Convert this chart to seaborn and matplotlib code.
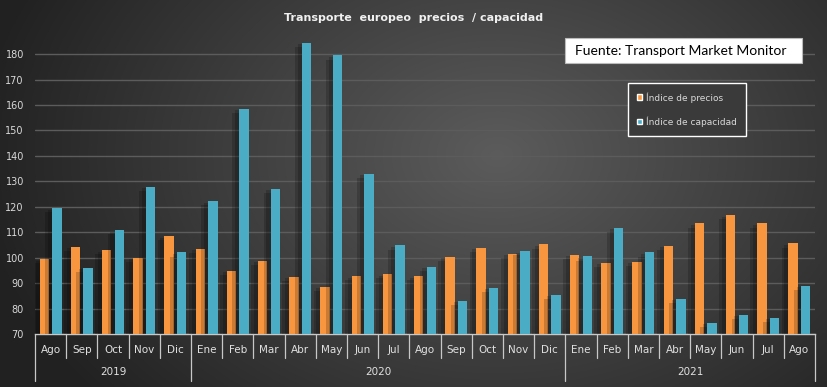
import numpy as np
import pandas as pd
import matplotlib
matplotlib.use("Agg")
import matplotlib.pyplot as plt
import matplotlib.patheffects as pe
from matplotlib.patches import Rectangle
import seaborn as sns

# Datos
meses = ["Ago", "Sep", "Oct", "Nov", "Dic",
         "Ene", "Feb", "Mar", "Abr", "May", "Jun", "Jul", "Ago", "Sep", "Oct", "Nov", "Dic",
         "Ene", "Feb", "Mar", "Abr", "May", "Jun", "Jul", "Ago"]
anios = ["2019", "2020", "2021"]
meses_por_anio = [5, 12, 8]
precios = [99.4, 104.3, 102.9, 99.9, 108.4,
           103.5, 94.8, 98.8, 92.4, 88.5, 92.7, 93.5, 92.7, 100.3, 103.9, 101.6, 105.2,
           101.1, 98.0, 98.4, 104.7, 113.5, 116.7, 113.5, 105.6]
capacidad = [119.4, 96.1, 110.8, 127.8, 102.1,
             122.2, 158.6, 127.0, 184.5, 179.5, 133.0, 104.8, 96.5, 83.1, 88.2, 102.5, 85.5,
             100.5, 111.8, 102.1, 83.9, 74.4, 77.5, 76.4, 88.9]

n = len(meses)
df = pd.DataFrame({
    "pos": list(range(n)) * 2,
    "valor": precios + capacidad,
    "serie": ["Índice de precios"] * n + ["Índice de capacidad"] * n,
})

sns.set_style("dark")
plt.rcParams["font.family"] = ["DejaVu Sans"]

W, H = 828, 387
fig = plt.figure(figsize=(W / 100, H / 100), dpi=100)

# Fondo con degradado oscuro
yy, xx = np.mgrid[0:H, 0:W]
d = np.sqrt(((xx - 0.60 * W) / (0.55 * W)) ** 2 + ((yy - 0.40 * H) / (0.85 * H)) ** 2)
g = np.clip(0.36 - 0.20 * d, 0.13, 0.36)
fig.figimage(np.dstack([g, g, g]), xo=0, yo=0, origin="upper", zorder=-10)

ax = fig.add_axes([35 / W, 1 - 334 / H, (815 - 35) / W, (334 - 30) / H])
ax.set_facecolor("none")

sns.barplot(data=df, x="pos", y="valor", hue="serie",
            palette=["#F7963F", "#4BACC6"], width=0.8, gap=0.25,
            saturation=1, ax=ax, zorder=3)

# sombra suave a la izquierda de cada barra
sombra = [pe.SimplePatchShadow(offset=(-5, -3), shadow_rgbFace="black", alpha=0.18),
          pe.SimplePatchShadow(offset=(-3, -1), shadow_rgbFace="black", alpha=0.18),
          pe.Normal()]
for p in ax.patches:
    p.set_path_effects(sombra)
    p.set_edgecolor("none")

ax.set_xlim(-0.5, n - 0.5)
ax.set_ylim(70, 189.5)
ax.set_yticks(range(70, 190, 10))
ax.grid(axis="y", color="#5c5c5c", linewidth=1, zorder=0)
ax.grid(axis="x", visible=False)
for s in ["top", "right", "left"]:
    ax.spines[s].set_visible(False)
ax.spines["bottom"].set_color("#c8c8c8")
ax.spines["bottom"].set_linewidth(1)
ax.tick_params(axis="y", length=0, colors="#d9d9d9", labelsize=7, pad=8)
ax.set_xticks(range(n))
ax.set_xticklabels(meses)
ax.tick_params(axis="x", length=0, colors="#e0e0e0", labelsize=7.5, pad=8)
ax.set_xlabel("")
ax.set_ylabel("")

# Separadores del eje de categorías (meses y años)
trans = ax.get_xaxis_transform()
limites = np.cumsum([0] + meses_por_anio) - 0.5
for x in np.arange(-0.5, n, 1.0):
    largo = -0.155 if x in limites else -0.079
    ax.plot([x, x], [0, largo], transform=trans, color="#c8c8c8", lw=0.9, clip_on=False)
for i, a in enumerate(anios):
    centro = (limites[i] + limites[i + 1]) / 2
    ax.text(centro, -0.125, a, transform=trans, ha="center", va="center",
            color="#e0e0e0", fontsize=7.5)

# Título
fig.text(0.5, 1 - 18 / H, "Transporte  europeo  precios  / capacidad", ha="center", va="center",
         color="#f0f0f0", fontsize=8, fontweight="bold")

# Caja de la fuente
fig.patches.append(Rectangle((565 / W, 1 - 63 / H), (802 - 565) / W, 25 / H,
                             transform=fig.transFigure, facecolor="white",
                             edgecolor="#bbbbbb", lw=0.8, zorder=5))
fig.text(575 / W, 1 - 51 / H, "Fuente: Transport Market Monitor", ha="left", va="center",
         color="black", fontsize=10, family="Lato", zorder=6)

# Leyenda
sns.move_legend(ax, loc="upper left", bbox_to_anchor=(628 / W, 1 - 83 / H),
                bbox_transform=fig.transFigure, title=None, frameon=True,
                fontsize=6.5, labelcolor="#d9d9d9", handlelength=0.6, handleheight=0.6,
                handletextpad=0.4, labelspacing=1.5, borderpad=1.0, borderaxespad=0,
                facecolor="#3a3a3a", edgecolor="white", fancybox=False, framealpha=1)
leg = ax.get_legend()
leg.get_frame().set_linewidth(1)
for h in leg.legend_handles:
    h.set_path_effects([])

fig.savefig("out.png", dpi=100)
